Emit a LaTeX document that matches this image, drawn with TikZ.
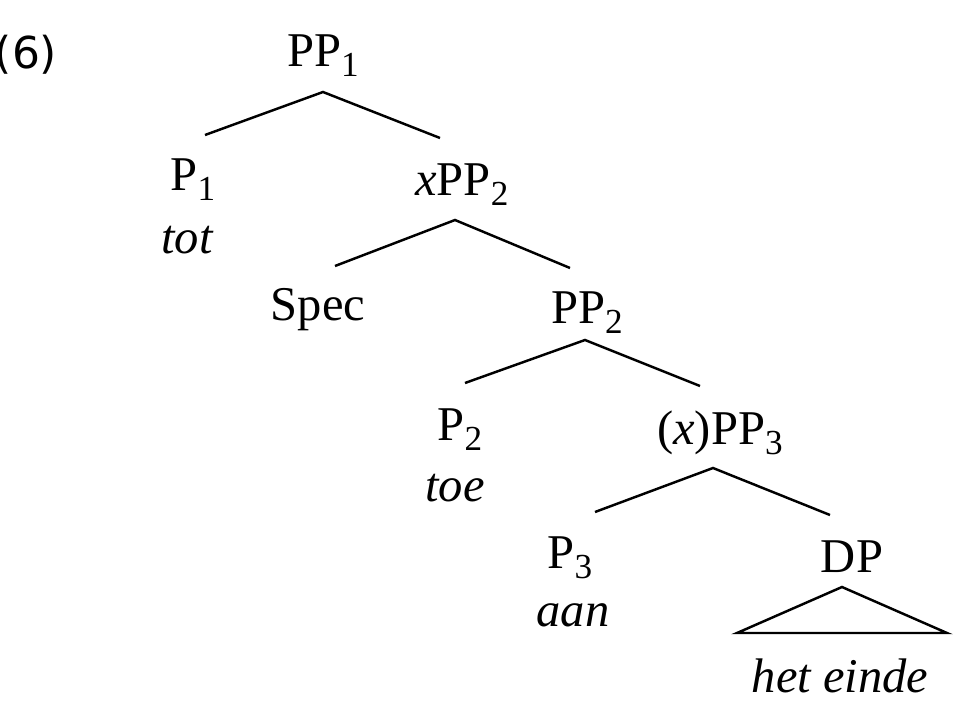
\documentclass[tikz,border=0pt]{standalone}
\usepackage{fontspec}
\setmainfont{Liberation Serif}
\newfontfamily\labfont{DejaVu Sans}
\newcommand{\lsub}[1]{\raisebox{-0.45ex}{\fontsize{10}{12}\selectfont #1}}
\begin{document}
\begin{tikzpicture}[x=0.01cm,y=-0.01cm,
  lab/.style={inner sep=0pt,font=\fontsize{13.8}{16}\selectfont},
  br/.style={line width=0.7pt}]
\useasboundingbox (0,0) rectangle (954,706);
\node[lab,font=\labfont\fontsize{12.5}{15}\selectfont] (ex) at (26,55) {(6)};
\node[lab] (pp1) at (323,56) {PP\lsub{1}};
\node[lab] (p1) at (193,180) {P\lsub{1}};
\node[lab] (tot) at (187,240) {\itshape tot};
\node[lab] (xpp2) at (462,185) {\textit{x}PP\lsub{2}};
\node[lab] (spec) at (318,310) {Spec};
\node[lab] (pp2) at (587,313) {PP\lsub{2}};
\node[lab] (p2) at (460,430) {P\lsub{2}};
\node[lab] (toe) at (455,488) {\itshape toe};
\node[lab] (xpp3) at (720,433) {(\textit{x})PP\lsub{3}};
\node[lab] (p3) at (570,558) {P\lsub{3}};
\node[lab] (aan) at (573,615) {\itshape aan};
\node[lab] (dp) at (852,557) {DP};
\node[lab] (he) at (840,676) {\itshape het einde};
\coordinate (a1) at (323,92); \coordinate (a1l) at (205,135); \coordinate (a1r) at (440,138);
\coordinate (a2) at (455,220); \coordinate (a2l) at (335,266); \coordinate (a2r) at (570,268);
\coordinate (a3) at (585,340); \coordinate (a3l) at (465,383); \coordinate (a3r) at (700,386);
\coordinate (a4) at (713,468); \coordinate (a4l) at (595,512); \coordinate (a4r) at (830,515);
\coordinate (t0) at (842,587); \coordinate (tl) at (737,633); \coordinate (tr) at (947,633);
\draw[br] (a1l) -- (a1) -- (a1r);
\draw[br] (a2l) -- (a2) -- (a2r);
\draw[br] (a3l) -- (a3) -- (a3r);
\draw[br] (a4l) -- (a4) -- (a4r);
\draw[br] (t0) -- (tl) -- (tr) -- cycle;
\end{tikzpicture}
\end{document}
